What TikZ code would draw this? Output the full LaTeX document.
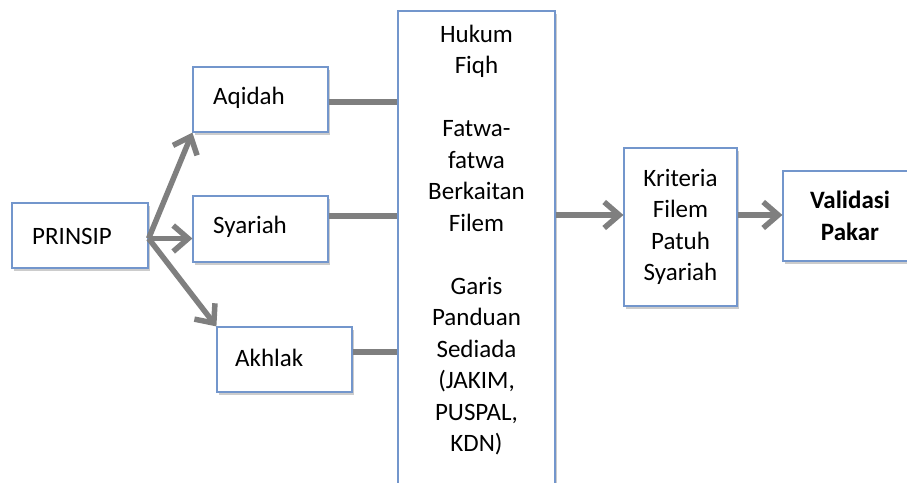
\documentclass[tikz,border=0pt]{standalone}
\usepackage{fontspec}
\setmainfont{Carlito}
\usetikzlibrary{arrows.meta,shadows,calc}
\definecolor{boxblue}{HTML}{7396CC}
\definecolor{linegray}{HTML}{7F7F7F}
\tikzset{
  box/.style={draw=boxblue, line width=1.2pt, fill=white, inner sep=0pt,
    drop shadow={shadow xshift=2pt, shadow yshift=-2.5pt, opacity=0.2, fill=black}},
  conn/.style={draw=linegray, line width=5.5pt},
  arr/.style={conn, -{Straight Barb[length=15pt, width=26pt]}},
  txt/.style={font=\fontsize{25}{31.5}\selectfont, align=center, inner sep=0pt}
}
\begin{document}
\begin{tikzpicture}[x=1pt,y=1pt]
\useasboundingbox (0,0) rectangle (907,-482);
% boxes
\node[box, minimum width=136pt, minimum height=65pt] (prinsip) at (80,-235.5) {};
\node[txt, anchor=west] (prinsipt) at (32,-236) {PRINSIP};
\node[box, minimum width=135pt, minimum height=65pt] (aqidah) at (260.5,-99.5) {};
\node[txt, anchor=west] (aqidaht) at (213,-98) {Aqidah};
\node[box, minimum width=135pt, minimum height=66pt] (syariah) at (260.5,-229) {};
\node[txt, anchor=west] (syariaht) at (213,-227) {Syariah};
\node[box, minimum width=135pt, minimum height=65pt] (akhlak) at (284.5,-359.5) {};
\node[txt, anchor=west] (akhlakt) at (235,-358) {Akhlak};
\node[box, minimum width=157pt, minimum height=500pt] (big) at (476.5,-261) {};
\node[txt] (bigt) at (476.5,-240) {Hukum\\Fiqh\\[31.5pt]Fatwa-\\fatwa\\Berkaitan\\Filem\\[31.5pt]Garis\\Panduan\\Sediada\\(JAKIM,\\PUSPAL,\\KDN)};
\node[box, txt, minimum width=113pt, minimum height=158pt] (kriteria) at (680.5,-227) {Kriteria\\Filem\\Patuh\\Syariah};
\node[box, txt, font=\fontsize{25}{31.5}\selectfont\bfseries, minimum width=134pt, minimum height=90pt] (validasi) at (850,-216) {Validasi\\Pakar};
% connectors
\coordinate (p0) at ($(prinsip.east)+(0,-3)$);
\draw[arr] (p0) -- (aqidah.south west);
\draw[arr] (p0) -- (p0 -| syariah.west);
\draw[arr] (p0) -- (akhlak.north west);
\draw[conn] ($(aqidah.east)+(0,-2.5)$) -- ($(aqidah.east -| big.west)+(0,-2.5)$);
\draw[conn] ($(syariah.east)+(0,13)$) -- ($(syariah.east -| big.west)+(0,13)$);
\draw[conn] ($(akhlak.east)+(0,7.5)$) -- ($(akhlak.east -| big.west)+(0,7.5)$);
\draw[arr] ($(big.east |- kriteria.west)+(0,12)$) -- ($(kriteria.west)+(0,12)$);
\draw[arr] ($(kriteria.east)+(0,12)$) -- ($(kriteria.east -| validasi.west)+(0,12)$);
\end{tikzpicture}
\end{document}
